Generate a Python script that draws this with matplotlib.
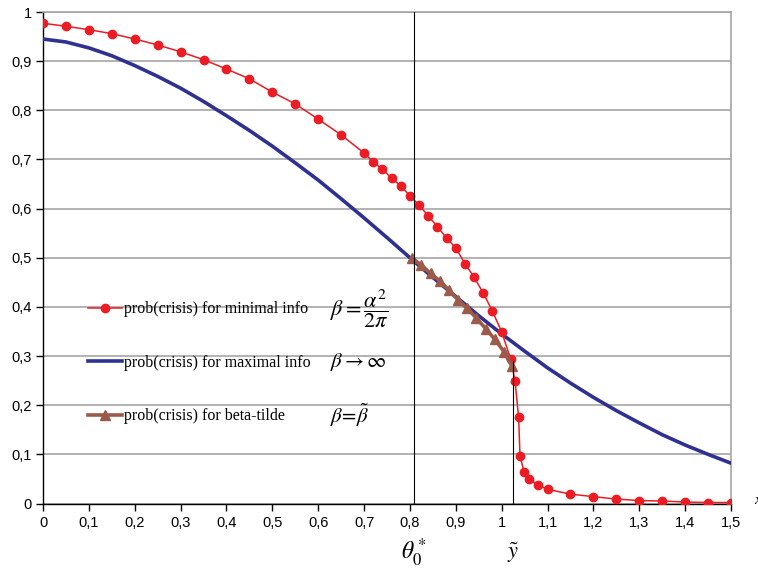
import numpy as np
import matplotlib.pyplot as plt
from matplotlib.ticker import FuncFormatter

plt.rcParams['mathtext.fontset'] = 'stix'

# prob(crisis) for minimal info (red dots)
x_min = [0, 0.05, 0.1, 0.15, 0.2, 0.25, 0.3, 0.35, 0.4, 0.45, 0.5, 0.55, 0.6, 0.65,
         0.7, 0.72, 0.74, 0.76, 0.78, 0.8, 0.82, 0.84, 0.86, 0.88, 0.9, 0.92, 0.94,
         0.96, 0.98, 1.0, 1.02, 1.029, 1.037, 1.04, 1.049, 1.06, 1.08, 1.1, 1.15,
         1.2, 1.25, 1.3, 1.35, 1.4, 1.45, 1.5]
y_min = [0.977, 0.971, 0.964, 0.956, 0.945, 0.933, 0.919, 0.903, 0.884, 0.864, 0.837,
         0.813, 0.782, 0.750, 0.713, 0.695, 0.680, 0.662, 0.646, 0.626, 0.607, 0.585,
         0.563, 0.540, 0.520, 0.488, 0.460, 0.428, 0.391, 0.349, 0.293, 0.250, 0.175,
         0.096, 0.064, 0.050, 0.037, 0.029, 0.019, 0.014, 0.009, 0.006, 0.005, 0.003,
         0.002, 0.002]

# prob(crisis) for maximal info (blue line)
x_max = [0, 0.05, 0.1, 0.15, 0.2, 0.25, 0.3, 0.35, 0.4, 0.45, 0.5, 0.55, 0.6, 0.65,
         0.7, 0.75, 0.8, 0.85, 0.9, 0.95, 1.0, 1.05, 1.1, 1.15, 1.2, 1.25, 1.3, 1.35,
         1.4, 1.45, 1.5]
y_max = [0.945, 0.939, 0.927, 0.911, 0.891, 0.869, 0.845, 0.818, 0.789, 0.759, 0.727,
         0.693, 0.658, 0.620, 0.581, 0.541, 0.500, 0.460, 0.421, 0.382, 0.345, 0.310,
         0.276, 0.245, 0.216, 0.189, 0.164, 0.140, 0.119, 0.100, 0.082]

# prob(crisis) for beta-tilde (brown triangles)
x_bt = [0.805, 0.825, 0.845, 0.865, 0.885, 0.905, 0.925, 0.945, 0.965, 0.985, 1.005, 1.022]
y_bt = [0.499, 0.485, 0.468, 0.453, 0.434, 0.414, 0.397, 0.377, 0.356, 0.334, 0.309, 0.280]

theta0 = 0.808
y_tilde = 1.024

fig = plt.figure(figsize=(7.58, 5.69), dpi=100)
ax = fig.add_axes([43 / 758, 65.5 / 569, 688 / 758, 491.5 / 569])

red = '#ec1c24'
blue = '#2e3192'
brown = '#9b5a4a'

l1, = ax.plot(x_min, y_min, color=red, lw=1.1, marker='o', ms=6, zorder=4,
              label='prob(crisis) for minimal info')
l2, = ax.plot(x_max, y_max, color=blue, lw=2.6, zorder=3,
              label='prob(crisis) for maximal info')
l3, = ax.plot(x_bt, y_bt, color=brown, lw=2.6, marker='^', ms=7, zorder=5,
              label='prob(crisis) for beta-tilde')

# vertical markers
ax.plot([theta0, theta0], [0, 1], color='black', lw=0.8, zorder=6)
ax.plot([y_tilde, y_tilde], [0, 0.29], color='black', lw=0.8, zorder=6)

ax.set_xlim(0, 1.5)
ax.set_ylim(0, 1)
ax.set_xticks(np.arange(0, 1.51, 0.1))
ax.set_yticks(np.arange(0, 1.01, 0.1))

fmt = FuncFormatter(lambda v, p: ('%g' % round(v, 1)).replace('.', ','))
ax.xaxis.set_major_formatter(fmt)
ax.yaxis.set_major_formatter(fmt)
ax.tick_params(direction='out', length=5, width=1, labelsize=10.5)
ax.tick_params(axis='x', pad=4)
ax.tick_params(axis='y', pad=3)
for lab in ax.get_xticklabels() + ax.get_yticklabels():
    lab.set_fontfamily('Liberation Sans')

ax.yaxis.grid(True, color='#a6a6a6', lw=1.2)
ax.set_axisbelow(True)
for s in ['top', 'right']:
    ax.spines[s].set_color('#a6a6a6')
    ax.spines[s].set_linewidth(1.2)
for s in ['left', 'bottom']:
    ax.spines[s].set_color('black')
    ax.spines[s].set_linewidth(1.0)

ax.legend(handles=[l1, l2, l3], loc='upper left', bbox_to_anchor=(0.045, 0.441),
          frameon=False, labelspacing=2.35, handlelength=2.1, handletextpad=0.15,
          prop={'family': 'Liberation Serif', 'size': 11.5})

ax.text(0.625, 0.394, r'$\beta=\dfrac{\alpha^2}{2\pi}$', fontsize=16, va='center')
ax.text(0.625, 0.288, r'$\beta\rightarrow\infty$', fontsize=15, va='center')
ax.text(0.625, 0.180, r'$\beta\!=\!\tilde{\beta}$', fontsize=15, va='center')

ax.text(theta0, -0.1, r'$\theta_0^*$', fontsize=17, ha='center', va='center',
        clip_on=False)
ax.text(y_tilde, -0.1, r'$\tilde{y}$', fontsize=16, ha='center', va='center',
        clip_on=False)
fig.text(754 / 758, 1 - 500 / 569, 'x', fontsize=11, ha='left', va='center',
         family='Liberation Serif', style='italic')

fig.savefig('out.png', dpi=100)
